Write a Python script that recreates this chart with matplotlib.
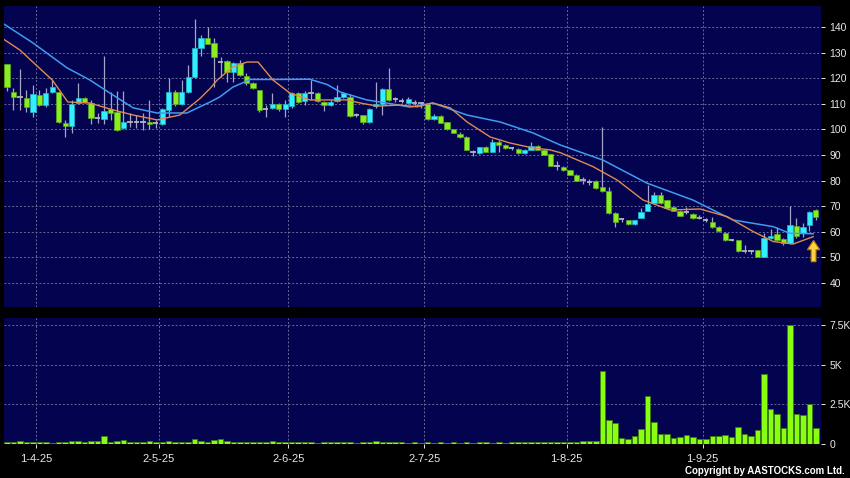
import matplotlib.pyplot as plt
from matplotlib.patches import FancyArrow
import numpy as np

plt.rcParams['font.family'] = ['Liberation Sans', 'DejaVu Sans']

# daily candles, index 0 = first day shown
opens = [125.5, 114.7, 112.5, 112.1, 106.9, 113.4, 109.5, 114.5, 114.7, 102.6,
         101.5, 110.2, 112.1, 110.4, 104.3, 104.1, 107.8, 106.9, 100.4, 103.0,
         103.0, 103.0, 103.0, 102.4, 102.1, 107.6, 114.7, 109.9, 114.7, 120.6,
         131.7, 135.6, 133.9, 126.5, 126.8, 122.6, 125.8, 120.9, 118.0, 115.4,
         107.8, 108.2, 109.8, 107.8, 109.1, 114.3, 111.2, 114.3, 114.3, 110.8,
         109.5, 111.2, 112.5, 112.5, 105.6, 105.6, 102.8, 109.1, 109.9, 115.6,
         111.7, 111.2, 110.2, 110.4, 110.2, 109.9, 103.9, 105.4, 102.8, 100.0,
         98.2, 96.9, 91.1, 90.7, 93.0, 91.3, 95.2, 93.9, 92.6, 92.2,
         90.7, 92.0, 93.5, 92.0, 90.3, 85.7, 85.2, 84.0, 82.2, 80.3,
         79.6, 80.0, 77.6, 76.1, 67.5, 64.9, 64.4, 63.1, 65.5, 68.2,
         71.1, 74.4, 72.4, 69.8, 68.3, 67.6, 67.0, 65.3, 64.6, 64.0,
         62.0, 59.7, 56.6, 56.6, 52.3, 52.3, 52.7, 50.3, 57.7, 59.2,
         57.1, 55.5, 62.3, 59.4, 62.7, 68.5]
highs = [125.5, 116.0, 123.6, 115.4, 117.3, 115.4, 116.0, 119.3, 114.7, 103.7,
         111.5, 118.0, 112.8, 111.5, 106.3, 128.7, 114.7, 115.0, 115.0, 106.3,
         105.6, 106.3, 111.5, 103.7, 108.2, 119.9, 115.4, 119.3, 125.2, 143.0,
         136.9, 140.1, 135.6, 128.4, 127.1, 126.5, 127.1, 121.9, 118.6, 115.4,
         109.5, 114.1, 110.2, 111.5, 114.7, 114.7, 115.0, 119.3, 114.7, 111.2,
         111.5, 117.5, 114.7, 113.7, 106.3, 105.6, 108.2, 118.6, 116.0, 123.9,
         112.5, 112.1, 112.5, 111.5, 110.8, 110.2, 106.0, 105.8, 103.0, 100.2,
         99.1, 97.3, 92.0, 93.3, 93.4, 96.1, 95.9, 94.2, 93.2, 92.6,
         92.4, 95.2, 93.9, 92.2, 90.5, 87.6, 85.5, 84.3, 82.5, 81.5,
         80.5, 80.3, 101.1, 77.4, 67.8, 65.3, 64.6, 64.6, 69.2, 78.3,
         75.7, 75.7, 72.6, 70.0, 68.5, 69.8, 67.2, 66.6, 65.3, 65.9,
         62.3, 60.0, 57.1, 56.8, 54.9, 52.7, 53.0, 59.4, 61.0, 61.8,
         57.5, 70.1, 65.3, 63.3, 68.2, 68.8]
lows = [115.1, 107.6, 107.6, 106.9, 105.0, 109.1, 108.9, 114.1, 102.4, 96.9,
        98.5, 109.9, 110.2, 102.1, 102.4, 102.1, 103.7, 99.5, 100.0, 101.1,
        100.4, 99.8, 100.0, 100.4, 101.7, 105.0, 109.1, 109.5, 114.1, 119.9,
        128.7, 133.4, 116.7, 120.6, 118.6, 118.6, 121.0, 117.3, 115.6, 106.9,
        105.0, 107.8, 107.3, 105.0, 108.5, 110.2, 109.5, 111.5, 110.8, 107.3,
        109.1, 110.8, 112.1, 105.0, 105.0, 102.1, 102.4, 108.2, 105.6, 111.2,
        110.8, 110.2, 109.8, 109.5, 108.2, 103.7, 103.5, 102.4, 99.8, 98.4,
        96.5, 91.8, 89.5, 90.5, 91.0, 91.0, 91.0, 92.3, 92.0, 90.4,
        90.5, 91.8, 91.8, 89.8, 85.5, 84.1, 83.8, 82.0, 79.8, 78.7,
        78.3, 76.8, 75.7, 67.0, 62.0, 64.0, 62.8, 62.8, 65.3, 68.0,
        70.9, 70.9, 69.0, 68.0, 66.0, 66.8, 65.0, 64.9, 64.0, 61.5,
        59.9, 56.3, 56.2, 52.0, 51.8, 51.5, 50.0, 50.0, 57.3, 56.3,
        55.0, 55.2, 57.5, 58.1, 60.1, 64.6]
closes = [116.4, 112.5, 112.5, 108.6, 113.7, 109.5, 114.3, 116.4, 102.8, 101.5,
          109.8, 112.1, 110.6, 104.3, 104.3, 107.3, 106.3, 99.8, 103.0, 103.0,
          103.0, 103.0, 102.1, 102.4, 107.8, 114.7, 109.9, 114.7, 120.6, 131.7,
          135.6, 133.4, 128.4, 126.5, 122.6, 125.8, 121.3, 118.0, 116.0, 107.6,
          107.8, 109.8, 107.8, 109.8, 114.3, 110.8, 114.1, 114.3, 111.2, 109.5,
          110.8, 112.5, 114.1, 105.2, 105.6, 102.8, 107.8, 109.9, 115.6, 111.5,
          111.7, 111.2, 111.7, 110.4, 110.2, 103.9, 105.4, 102.6, 100.0, 98.7,
          96.9, 92.0, 91.1, 93.0, 91.3, 95.2, 93.9, 92.6, 92.6, 90.7,
          92.0, 93.5, 92.0, 90.1, 85.7, 85.7, 84.0, 82.2, 80.0, 80.3,
          79.6, 77.0, 76.1, 67.2, 64.0, 64.9, 63.1, 64.4, 67.9, 70.7,
          74.4, 71.1, 69.2, 68.3, 66.2, 67.6, 65.3, 65.3, 64.6, 61.8,
          60.1, 56.6, 56.6, 52.3, 52.3, 52.3, 50.3, 57.7, 58.4, 56.8,
          55.5, 62.7, 58.4, 62.0, 67.9, 65.7]
volume = [80, 100, 145, 100, 80, 90, 80, 60, 100, 120,
          145, 145, 110, 185, 185, 480, 120, 145, 230, 110,
          90, 100, 145, 120, 90, 145, 120, 90, 120, 290,
          165, 120, 230, 270, 145, 120, 100, 90, 80, 100,
          90, 145, 120, 80, 70, 90, 80, 70, 60, 80,
          70, 90, 70, 80, 60, 70, 80, 140, 90, 120,
          80, 70, 60, 80, 60, 70, 60, 80, 60, 70,
          60, 70, 60, 80, 70, 60, 70, 60, 80, 70,
          90, 80, 100, 90, 110, 100, 120, 130, 120, 150,
          165, 150, 4620, 1490, 1290, 340, 290, 480, 900, 3010,
          1350, 610, 610, 340, 400, 570, 400, 310, 290, 460,
          480, 540, 400, 1070, 590, 480, 860, 4400, 2190, 1870,
          1010, 7500, 1870, 1810, 2510, 1010]

# moving average lines (x = candle index)
ma20_x = [-0.5, 4.0, 9.3, 12.8, 15.9, 19.5, 23.2, 27.8, 29.8, 31.4, 32.9, 34.9,
          37.6, 42.0, 46.8, 49.5, 51.5, 55.6, 58.7, 62.3, 65.8, 71.1, 76.2,
          81.3, 85.5, 92.1, 98.9, 106.0, 112.2, 118.4, 121.0, 124.6]
ma20_v = [141.2, 133.8, 124.0, 119.3, 114.2, 108.4, 106.4, 106.4, 108.8, 110.7, 112.7, 116.5,
          119.5, 119.5, 119.6, 117.5, 114.6, 111.5, 110.3, 108.7, 110.3, 105.6, 102.9,
          98.6, 93.9, 88.0, 79.0, 72.4, 64.6, 62.0, 59.4, 59.2]
ma10_x = [-0.5, 2.0, 4.0, 7.0, 9.4, 12.8, 16.4, 19.5, 23.2, 26.7, 29.8, 31.4, 32.5,
          34.9, 37.1, 38.8, 41.1, 43.7, 46.8, 50.4, 52.5, 54.6, 57.2, 60.7, 63.4,
          65.8, 68.5, 71.1, 74.7, 77.7, 81.3, 83.9, 85.5, 90.6, 94.3, 98.3, 102.5,
          107.1, 111.3, 115.3, 118.4, 121.5, 124.6]
ma10_v = [135.2, 131.0, 126.3, 119.3, 110.7, 110.3, 107.6, 105.6, 103.7, 105.6, 112.0, 116.0, 119.3,
          124.4, 126.3, 126.3, 119.3, 114.2, 111.5, 111.5, 111.5, 110.3, 109.1, 109.5, 108.8,
          110.3, 108.4, 102.9, 97.0, 94.7, 92.7, 92.0, 90.9, 85.4, 80.2, 72.4, 68.5,
          68.9, 65.9, 60.1, 56.2, 55.2, 58.1]

date_labels = ['1-4-25', '2-5-25', '2-6-25', '2-7-25', '1-8-25', '1-9-25']
date_index = [5, 24, 44, 65, 87, 108]
price_ticks = [40, 50, 60, 70, 80, 90, 100, 110, 120, 130, 140]
vol_ticks = [0, 2500, 5000, 7500]
vol_tick_labels = ['0', '2.5K', '5K', '7.5K']

o = np.array(opens)
h = np.array(highs)
l = np.array(lows)
c = np.array(closes)
x = np.arange(len(o))

navy = '#03034f'
cyan = '#33eeff'
green = '#88ee22'
grid_c = '#6a6a9a'
txt = '#e8e8e8'

fig = plt.figure(figsize=(8.5, 4.78), dpi=100, facecolor='black')
ax = fig.add_axes([4/850, 1-307/478, 817/850, 301/478], facecolor=navy)
axv = fig.add_axes([4/850, 1-444/478, 817/850, 126/478], facecolor=navy, sharex=ax)

up = c > o
dn = c < o
flat = c == o

ax.vlines(x, l, h, color='#a4a4c4', lw=0.9, zorder=2)
ax.bar(x[up], (c-o)[up], bottom=o[up], width=0.82, color=cyan,
       edgecolor='#20b8c8', lw=0.5, zorder=3)
ax.bar(x[dn], (o-c)[dn], bottom=c[dn], width=0.82, color=green,
       edgecolor='#5aa818', lw=0.5, zorder=3)
ax.hlines(o[flat], x[flat]-0.41, x[flat]+0.41, color='#b4b4c8', lw=1.3, zorder=3)

ax.plot(ma20_x, ma20_v, color='#3f9cf0', lw=1.1, zorder=4)
ax.plot(ma10_x, ma10_v, color='#e08a50', lw=1.0, zorder=4)

ax.add_patch(FancyArrow(124.65, 48.3, 0, 8.3, width=0.75, head_width=1.9,
                        head_length=3.6, length_includes_head=True,
                        facecolor='#ffd040', edgecolor='#c08000', lw=0.8, zorder=5))

axv.bar(x, volume, width=0.85, color='#88ff11', edgecolor='#3c7a10', lw=0.6, zorder=3)

xt = [i - 0.5 for i in date_index]
for a in (ax, axv):
    a.set_xticks(xt)
    a.grid(True, color=grid_c, ls=(0, (2, 2)), lw=0.7, zorder=0)
    a.yaxis.tick_right()
    a.tick_params(axis='y', colors=txt, labelsize=7.5, length=3, width=0.7, pad=3)
    for s in a.spines.values():
        s.set_visible(False)

ax.set_xlim(-0.46, 125.8)
ax.set_ylim(30.6, 148.2)
ax.set_yticks(price_ticks)
ax.tick_params(axis='x', bottom=False, labelbottom=False)

axv.set_ylim(-25, 7950)
axv.set_yticks(vol_ticks)
axv.set_yticklabels(vol_tick_labels)
axv.set_xticklabels(date_labels)
axv.tick_params(axis='x', colors=txt, labelsize=8, length=3, width=0.7, pad=4)

fig.text(845/850, 1-471.5/478, 'Copyright by AASTOCKS.com Ltd.', ha='right',
         va='center', fontsize=7, fontweight='bold', color='white')

fig.savefig('out.png', dpi=100, facecolor='black')
